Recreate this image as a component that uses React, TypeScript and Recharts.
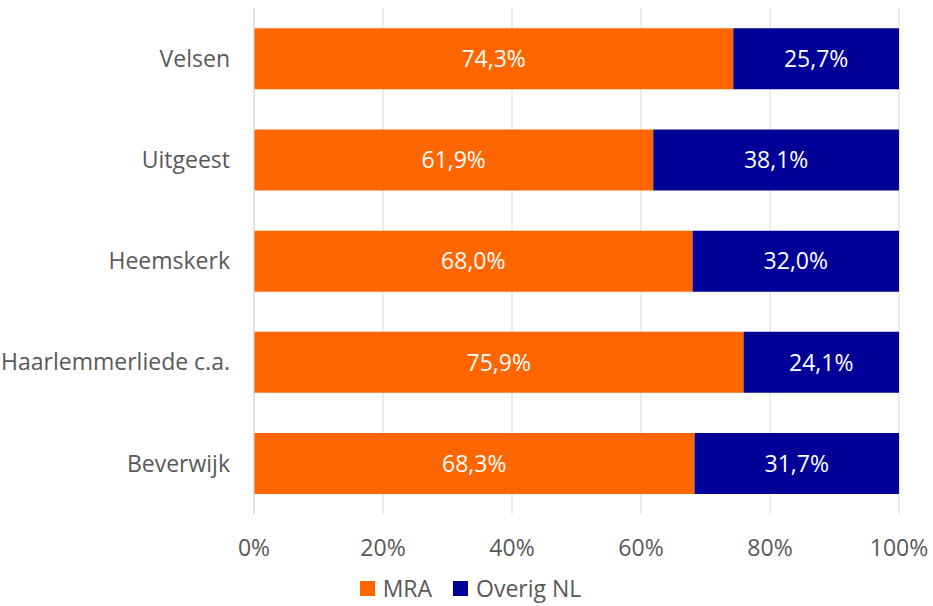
import React from "react";
import {
  BarChart,
  Bar,
  XAxis,
  YAxis,
  CartesianGrid,
  Legend,
  LabelList,
} from "recharts";

const categories = ["Velsen", "Uitgeest", "Heemskerk", "Haarlemmerliede c.a.", "Beverwijk"];
const mraValues = [74.3, 61.9, 68.0, 75.9, 68.3];
const overigValues = [25.7, 38.1, 32.0, 24.1, 31.7];
const xTicks = [0, 20, 40, 60, 80, 100];

const data = categories.map((name, i) => ({
  name,
  MRA: mraValues[i],
  "Overig NL": overigValues[i],
}));

const FONT = "'Open Sans', 'Noto Sans', sans-serif";
const GRAY = "#595959";
const FS = 23;

const fmt = (v: any) => `${Number(v).toFixed(1).replace(".", ",")}%`;

const renderLegend = (props: any) => {
  const { payload } = props;
  return (
    <div
      style={{
        display: "flex",
        justifyContent: "center",
        alignItems: "center",
        paddingLeft: 8,
        fontFamily: FONT,
        fontSize: 23,
        color: GRAY,
        lineHeight: "30px",
      }}
    >
      {(payload || []).map((entry: any, i: number) => (
        <div
          key={i}
          style={{ display: "flex", alignItems: "center", marginLeft: i > 0 ? 21 : 0 }}
        >
          <span
            style={{
              display: "inline-block",
              width: 15,
              height: 15,
              background: entry.color,
              marginRight: 8,
            }}
          />
          <span>{entry.value}</span>
        </div>
      ))}
    </div>
  );
};

export default function App() {
  return (
    <div style={{ position: "absolute", left: 0, top: 0, fontFamily: FONT }}>
      <BarChart
        width={933}
        height={606}
        data={data}
        layout="vertical"
        barCategoryGap="20%"
        margin={{ top: 8, right: 34, left: 8, bottom: 3 }}
      >
        <CartesianGrid horizontal={false} stroke="#d9d9d9" />
        <XAxis
          type="number"
          domain={[0, 100]}
          ticks={xTicks}
          tickFormatter={(v: number) => `${v}%`}
          axisLine={false}
          tickLine={false}
          tickSize={0}
          tickMargin={26}
          height={59}
          tick={{ fill: GRAY, fontSize: FS, fontFamily: FONT }}
          interval={0}
        />
        <YAxis
          type="category"
          dataKey="name"
          width={246}
          axisLine={{ stroke: "#d9d9d9" }}
          tickLine={false}
          tickSize={0}
          tickMargin={24}
          tick={{ fill: GRAY, fontSize: 23, fontFamily: FONT }}
          interval={0}
        />
        <Legend
          verticalAlign="bottom"
          wrapperStyle={{ left: 0, width: 933 }}
          content={renderLegend}
        />
        <Bar dataKey="MRA" stackId="a" fill="#FF6600" isAnimationActive={false}>
          <LabelList
            dataKey="MRA"
            position="center"
            formatter={fmt}
            fill="#ffffff"
            style={{ fontSize: FS, fontFamily: FONT }}
          />
        </Bar>
        <Bar dataKey="Overig NL" stackId="a" fill="#000099" isAnimationActive={false}>
          <LabelList
            dataKey="Overig NL"
            position="center"
            formatter={fmt}
            fill="#ffffff"
            style={{ fontSize: FS, fontFamily: FONT }}
          />
        </Bar>
      </BarChart>
    </div>
  );
}
